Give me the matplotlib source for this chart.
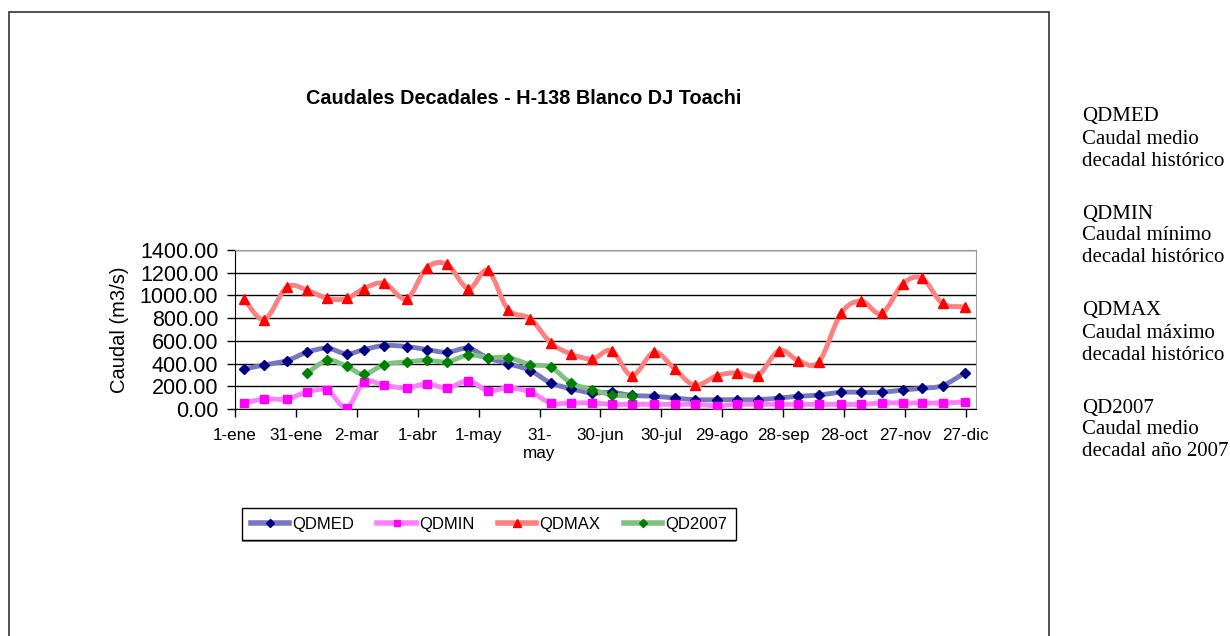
import matplotlib.pyplot as plt
import numpy as np
from matplotlib.path import Path
from matplotlib.patches import PathPatch, Rectangle
from matplotlib.lines import Line2D
from matplotlib import font_manager

plt.rcParams['font.family'] = ['Liberation Sans', 'DejaVu Sans']

# caudales decadales (m3/s), 36 decadas
qdmed = [353, 388, 426, 500, 535, 485, 523, 559, 550, 523, 500, 535,
         450, 400, 338, 229, 179, 141, 147, 120, 112, 97, 82, 82,
         82, 82, 97, 112, 123, 147, 147, 147, 168, 182, 206, 318]
qdmin = [53, 88, 88, 150, 165, 9, 238, 209, 185, 223, 185, 247,
         162, 185, 150, 53, 53, 53, 41, 41, 41, 41, 41, 29,
         41, 41, 41, 41, 41, 41, 41, 53, 53, 53, 53, 62]
qdmax = [970, 788, 1073, 1047, 973, 973, 1061, 1108, 970, 1244, 1273, 1058,
         1220, 876, 794, 582, 485, 441, 515, 294, 500, 353, 209, 294,
         318, 294, 515, 426, 412, 841, 950, 841, 1103, 1150, 929, 900]
# 2007: decadas 4 a 20
qd2007_ini = 3
qd2007 = [315, 429, 376, 306, 391, 415, 429, 415, 476, 453, 453, 391,
          368, 229, 170, 126, 112]

tick_labels = ['1-ene', '31-ene', '2-mar', '1-abr', '1-may', '31-\nmay', '30-jun',
               '30-jul', '29-ago', '28-sep', '28-oct', '27-nov', '27-dic']
notas = [('QDMED', 'Caudal medio', 'decadal histórico'),
         ('QDMIN', 'Caudal mínimo', 'decadal histórico'),
         ('QDMAX', 'Caudal máximo', 'decadal histórico'),
         ('QD2007', 'Caudal medio', 'decadal año 2007')]

# centro de cada decada (dias desde 1-ene)
dias_mes = [31, 28, 31, 30, 31, 30, 31, 31, 30, 31, 30, 31]
inicio = np.cumsum([0] + dias_mes[:-1])
x = []
for s, L in zip(inicio, dias_mes):
    x += [s + 4.5, s + 14.5, s + (20 + L) / 2.0]
x = np.array(x)


def suave(xs, ys):
    # curva suavizada tipo excel (catmull-rom -> bezier)
    pts = np.column_stack([np.asarray(xs, float), np.asarray(ys, float)])
    verts = [pts[0]]
    codes = [Path.MOVETO]
    n = len(pts)
    for i in range(n - 1):
        p0 = pts[max(i - 1, 0)]
        p1 = pts[i]
        p2 = pts[i + 1]
        p3 = pts[min(i + 2, n - 1)]
        verts += [p1 + (p2 - p0) / 6.0, p2 - (p3 - p1) / 6.0, p2]
        codes += [Path.CURVE4] * 3
    return Path(verts, codes)


# fuente angosta para la leyenda si existe
nombres = {f.name for f in font_manager.fontManager.ttflist}
if 'Liberation Sans Narrow' in nombres:
    leg_font = {'family': 'Liberation Sans Narrow', 'size': 14}
else:
    leg_font = {'family': 'Liberation Sans', 'size': 12}

fig = plt.figure(figsize=(12.3, 6.36), dpi=100)
fig.patches.append(Rectangle((9 / 1230, -0.1), 1040 / 1230, 1.1 - 12 / 636,
                             transform=fig.transFigure, fill=False,
                             edgecolor='#333333', linewidth=1.2))

ax = fig.add_axes([235 / 1230, 1 - 409 / 636, 741 / 1230, 159 / 636])

series = [
    ('QDMED', x, qdmed, '#7878c0', '#000080', 'D', 5),
    ('QDMIN', x, qdmin, '#ff80ff', '#ff00ff', 's', 5.5),
    ('QDMAX', x, qdmax, '#ff8080', '#ff0000', '^', 7),
    ('QD2007', x[qd2007_ini:qd2007_ini + len(qd2007)], qd2007, '#80c080', '#008000', 'D', 5),
]
handles = []
for name, xs, ys, lc, mc, mk, ms in series:
    ax.add_patch(PathPatch(suave(xs, ys), facecolor='none', edgecolor=lc,
                           linewidth=3.5, zorder=3))
    ax.plot(xs, ys, linestyle='none', marker=mk, markersize=ms,
            color=mc, zorder=4)
    handles.append(Line2D([], [], color=lc, linewidth=4, marker=mk,
                          markersize=ms * 0.8, markerfacecolor=mc, markeredgecolor=mc))

ax.set_xlim(0, 365)
ax.set_ylim(0, 1400)
ax.set_yticks(np.arange(0, 1401, 200))
ax.set_yticklabels(['%.2f' % v for v in np.arange(0, 1401, 200)], fontsize=15.5)
ax.set_xticks(np.arange(0, 361, 30))
ax.set_xticklabels(tick_labels, fontsize=12.3)
ax.tick_params(axis='both', direction='out', length=6, width=1, color='black')
ax.tick_params(axis='x', pad=8)
ax.tick_params(axis='y', pad=6)
ax.grid(axis='y', color='black', linewidth=1)
ax.set_axisbelow(True)
for s in ['top', 'right']:
    ax.spines[s].set_color('#999999')
ax.spines['left'].set_color('black')
ax.spines['bottom'].set_color('black')
ax.set_ylabel('Caudal (m3/s)', fontsize=14.5, labelpad=8)

fig.text(524 / 1230, 1 - 98 / 636, 'Caudales Decadales - H-138 Blanco DJ Toachi',
         fontsize=14.3, fontweight='bold', ha='center', va='center')

leg = fig.legend(handles, [s[0] for s in series], loc='center',
                 bbox_to_anchor=(489 / 1230, 1 - 524 / 636), ncol=4,
                 prop=leg_font, frameon=True, fancybox=False, framealpha=1,
                 handlelength=2.3, handletextpad=0.2, columnspacing=1.4,
                 borderpad=0.5, borderaxespad=0)
leg.get_frame().set_edgecolor('black')
leg.get_frame().set_facecolor('white')
leg.get_frame().set_linewidth(1)

# sombra gris bajo la leyenda
fig.canvas.draw()
bb = leg.get_window_extent()
sombra = Rectangle((bb.x0 / 1230, (bb.y0 - 2) / 636), bb.width / 1230, bb.height / 636,
                   transform=fig.transFigure, facecolor='#888888', edgecolor='none',
                   zorder=leg.get_zorder() - 0.5)
fig.patches.append(sombra)

y0 = 117
for i, (a, b, c) in enumerate(notas):
    yb = y0 + i * 97
    for j, t in enumerate([a, b, c]):
        fig.text(1082 / 1230, 1 - (yb + j * 22) / 636, t, fontsize=15,
                 family=['Liberation Serif', 'DejaVu Serif'], ha='left', va='center')

fig.savefig('out.png', dpi=100)
